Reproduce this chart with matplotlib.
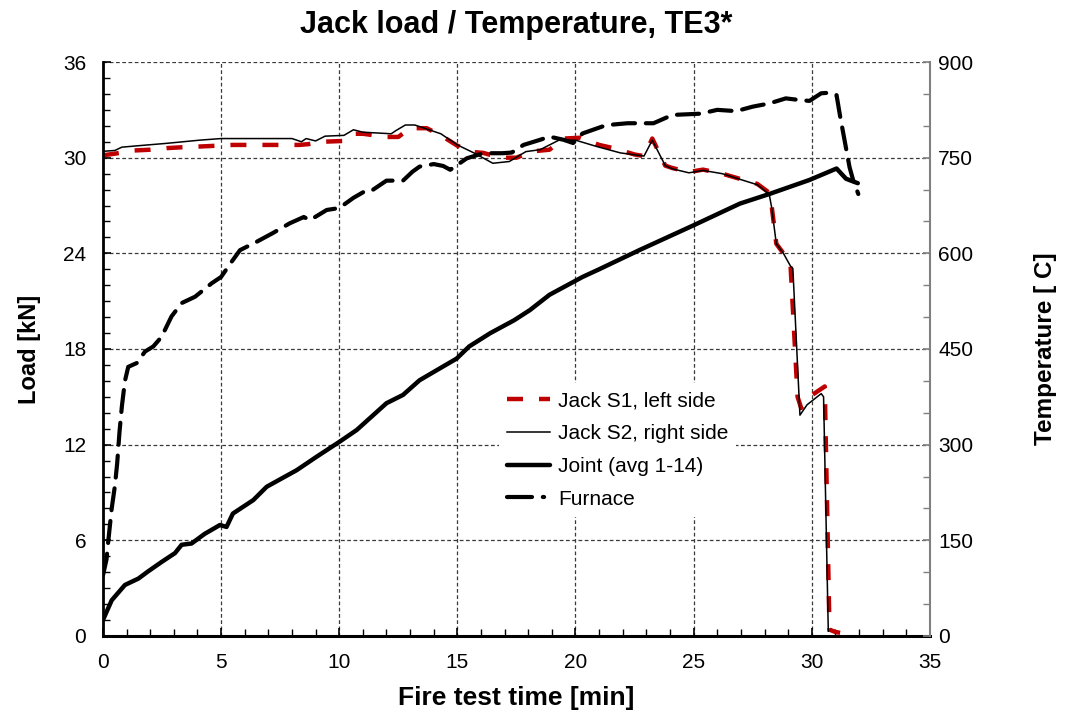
import numpy as np
import matplotlib
matplotlib.use("Agg")
import matplotlib.pyplot as plt
from matplotlib.lines import Line2D
from matplotlib.ticker import MultipleLocator

plt.rcParams['font.family'] = ['Liberation Sans', 'DejaVu Sans']

# Jack S1 (left side) load [kN]
t_s1 = [0, 0.5, 1.3, 2.0, 2.7, 3.3, 4.1, 4.8, 5.5, 6.5, 7.5, 8.3, 8.7, 9.3, 10.2,
        10.6, 11.0, 12.0, 12.5, 13.0, 13.7, 14.3, 15.0, 15.7, 16.1, 16.8, 17.5,
        18.2, 18.9, 19.5, 20.2, 21.0, 21.6, 22.5, 22.9, 23.25, 23.8, 24.1, 24.8,
        25.4, 26.2, 27.7, 28.2, 28.3, 28.5, 28.8, 29.1, 29.4, 29.55, 30.0, 30.55,
        30.75, 31.0, 31.2]
load_s1 = [30.15, 30.25, 30.45, 30.5, 30.6, 30.65, 30.7, 30.75, 30.8, 30.8, 30.8,
           30.8, 30.85, 31.0, 31.05, 31.5, 31.5, 31.3, 31.3, 31.85, 31.85, 31.4,
           30.75, 30.35, 30.3, 30.0, 30.0, 30.4, 30.5, 31.2, 31.25, 30.8, 30.6,
           30.2, 30.1, 31.2, 29.5, 29.35, 29.1, 29.25, 29.0, 28.35, 27.8, 27.0,
           24.6, 24.0, 23.3, 15.0, 14.3, 15.1, 15.65, 0.4, 0.25, 0.2]

# Jack S2 (right side) load [kN]
t_s2 = [0, 0.5, 0.8, 1.5, 2.7, 4.1, 5.0, 6.5, 8.0, 8.4, 8.6, 9.0, 9.4, 10.2, 10.6,
        11.0, 12.2, 12.4, 12.8, 13.2, 13.7, 14.3, 15.0, 15.7, 16.5, 17.2, 17.9,
        18.5, 19.3, 20.0, 20.9, 21.9, 22.9, 23.25, 23.8, 24.1, 24.8, 25.4, 26.2,
        27.7, 28.2, 28.3, 28.5, 28.8, 29.1, 29.2, 29.5, 29.8, 30.4, 30.5, 30.7]
load_s2 = [30.4, 30.45, 30.66, 30.75, 30.9, 31.1, 31.2, 31.2, 31.2, 31.0, 31.2,
           31.05, 31.35, 31.4, 31.75, 31.6, 31.5, 31.7, 32.05, 32.05, 31.8, 31.5,
           30.8, 30.3, 29.65, 29.76, 30.38, 30.5, 31.1, 31.1, 30.7, 30.3, 30.1,
           31.1, 29.5, 29.3, 29.05, 29.2, 29.0, 28.3, 27.7, 26.9, 24.6, 24.0, 23.2,
           23.05, 13.85, 14.5, 15.2, 15.0, 0.3]

# Joint temperature, average of thermocouples 1-14 [C]
t_joint = [0, 0.37, 0.93, 1.5, 1.9, 2.48, 3.05, 3.33, 3.75, 4.3, 4.95, 5.23, 5.5,
           6.36, 6.93, 8.2, 9.04, 10.03, 10.74, 12.0, 12.7, 13.4, 14.0, 14.97,
           15.5, 16.4, 17.4, 18.07, 18.9, 20.3, 21.0, 22.7, 25.0, 26.96, 28.2,
           29.9, 31.05, 31.45, 31.8, 31.95]
temp_joint = [25, 56, 80, 90, 101, 116, 130, 143, 145, 160, 174, 171, 192, 213,
              234, 260, 281, 305, 323, 365, 378, 401, 414, 435, 454, 475, 495,
              511, 535, 563, 575, 605, 644, 678, 693, 715, 733, 717, 712, 710]

# Furnace temperature [C]
t_furn = [0, 0.15, 0.2, 0.37, 0.5, 0.6, 0.7, 0.8, 0.93, 1.07, 1.43, 1.78, 2.13,
          2.48, 2.9, 3.33, 3.9, 4.6, 5.0, 5.45, 5.8, 6.5, 7.2, 7.9, 8.5, 8.76,
          9.47, 10.0, 10.6, 11.16, 11.4, 12.0, 12.7, 13.1, 13.4, 14.0, 14.4, 14.7,
          15.4, 16.1, 16.9, 17.3, 17.8, 18.5, 18.9, 19.5, 19.9, 20.3, 21.3, 22.2,
          23.3, 24.1, 25.3, 26.0, 26.8, 27.5, 28.2, 28.9, 29.35, 29.9, 30.4, 30.8,
          31.05, 31.2, 31.45, 31.6, 31.75, 31.97]
temp_furn = [95, 120, 140, 200, 234, 270, 320, 360, 400, 422, 428, 446, 454, 469,
             501, 522, 532, 553, 563, 587, 605, 618, 632, 647, 657, 652, 668, 671,
             687, 699, 699, 714, 714, 728, 736, 740, 737, 731, 749, 757, 757, 758,
             770, 778, 783, 778, 773, 788, 801, 804, 804, 817, 819, 825, 823, 830,
             835, 843, 841, 839, 851, 852, 848, 815, 765, 735, 715, 693]

fig = plt.figure(figsize=(10.67, 7.17), dpi=100)
ax = fig.add_axes([0.0965, 0.113, 0.775, 0.8005])
ax2 = ax.twinx()

red, = ax.plot(t_s1, load_s1, color='#c00000', lw=3.2, dashes=(3.6, 3.6),
               dash_capstyle='butt', label='Jack S1, left side')
thin, = ax.plot(t_s2, load_s2, color='black', lw=1.1, label='Jack S2, right side')
joint, = ax2.plot(t_joint, temp_joint, color='black', lw=3.2,
                  solid_capstyle='round', label='Joint (avg 1-14)')
ax2.plot(t_furn, temp_furn, color='black', lw=3.0, dashes=(5.3, 2.6),
         dash_capstyle='round')
furn_proxy = Line2D([], [], color='black', lw=3.0, dashes=(6.0, 2.6, 0.3, 3.0),
                    dash_capstyle='round', label='Furnace')

ax.set_xlim(0, 35)
ax.set_ylim(0, 36)
ax2.set_ylim(0, 900)
ax.xaxis.set_major_locator(MultipleLocator(5))
ax.xaxis.set_minor_locator(MultipleLocator(1))
ax.yaxis.set_major_locator(MultipleLocator(6))
ax.yaxis.set_minor_locator(MultipleLocator(1))
ax2.yaxis.set_major_locator(MultipleLocator(150))
ax2.yaxis.set_minor_locator(MultipleLocator(50))

ax.grid(which='major', color='#3a3a3a', lw=0.9, ls=(0, (3, 2)))
ax.set_axisbelow(True)

for s in ['top', 'right']:
    ax.spines[s].set_visible(False)
for s in ['top', 'left', 'bottom']:
    ax2.spines[s].set_visible(False)
ax.spines['left'].set_linewidth(2.0)
ax.spines['bottom'].set_linewidth(2.2)
ax2.spines['right'].set_color('#808080')
ax2.spines['right'].set_linewidth(1.5)

ax.tick_params(axis='both', which='major', direction='in', length=6, width=1.2,
               labelsize=15, colors='black')
ax.tick_params(axis='both', which='minor', direction='in', length=5, width=1.0)
ax.tick_params(axis='y', which='major', pad=12)
ax.tick_params(axis='x', which='major', pad=12)
ax2.tick_params(axis='y', which='major', direction='in', length=5, width=1.2,
                color='#808080', labelcolor='black', labelsize=15, pad=6)
ax2.tick_params(axis='y', which='minor', direction='in', length=5, width=1.0,
                color='#808080')

ax.set_xlabel('Fire test time [min]', fontsize=19, fontweight='bold', labelpad=10)
ax.set_ylabel('Load [kN]', fontsize=17, fontweight='bold', labelpad=16)
ax2.set_ylabel('Temperature [ C]', fontsize=17.5, fontweight='bold', labelpad=44)
ax.set_title('Jack load / Temperature, TE3*', fontsize=22, fontweight='bold', pad=21)

leg = ax2.legend(handles=[red, thin, joint, furn_proxy], loc='upper left',
                 bbox_to_anchor=(499 / 1067, 1 - 383 / 717),
                 bbox_transform=fig.transFigure, fontsize=15, frameon=True,
                 fancybox=False, edgecolor='none', facecolor='white',
                 framealpha=1, handlelength=2.07, handletextpad=0.35,
                 labelspacing=0.66, borderpad=0.4, borderaxespad=0)

fig.savefig('out.png', dpi=100)
